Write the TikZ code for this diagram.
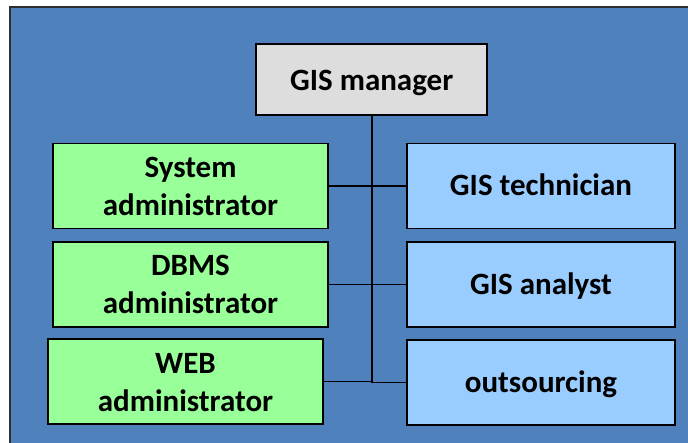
\documentclass[tikz,border=0pt]{standalone}
\usepackage{fontspec}
\setmainfont{Carlito}
\definecolor{panelblue}{HTML}{4F81BD}
\definecolor{panelrim}{HTML}{2E2E2E}
\definecolor{rolegreen}{HTML}{99FF99}
\definecolor{roleblue}{HTML}{99CCFF}
\definecolor{headgray}{HTML}{DDDDDD}
% two centred lines, baseline on the first one
\newcommand\twolines[2]{\begin{tabular}[t]{@{}c@{}}#1\\#2\end{tabular}}
\begin{document}
\begin{tikzpicture}[x=1pt,y=-1pt,
  role/.style={draw=black,line width=1.6pt,inner sep=0pt,
    font=\fontsize{31}{38}\selectfont\bfseries},
  oneline/.style={role,text height=52.5pt,text depth=32.5pt},
  twoline/.style={role,text height=34pt,text depth=51pt},
  leftrole/.style={twoline,fill=rolegreen,minimum width=275pt},
  rightrole/.style={oneline,fill=roleblue,minimum width=268pt},
  head/.style={role,fill=headgray,minimum width=231pt,
    text height=46.7pt,text depth=24.3pt},
  link/.style={draw=black,line width=1.4pt},
  trunk/.style={draw=black,line width=2.2pt}]
  \useasboundingbox (0,0) rectangle (688,442);
  \clip (0,0) rectangle (688,442);
  % backdrop panel
  \fill[white] (0,0) rectangle (688,442);
  \draw[panelrim,line width=2pt,fill=panelblue] (10,7) rectangle (700,460);

  % boxes
  \node[head] (mgr) at (371.7,79.5) {GIS manager};
  \node[leftrole] (sys) at (190.5,185.8) {\twolines{System}{administrator}};
  \node[leftrole] (dbms) at (190.5,284.2) {\twolines{DBMS}{administrator}};
  \node[leftrole] (web) at (185.5,381.5) {\twolines{WEB}{administrator}};
  \node[rightrole] (tech) at (541,185.8) {GIS technician};
  \node[rightrole] (ana) at (541,284.2) {GIS analyst};
  \node[rightrole] (out) at (541,382.5) {outsourcing};

  % connectors
  \draw[link] (sys.east) -- (tech.west);
  \draw[link] (dbms.east) -- (ana.west);
  \draw[link] (web.east) -- (web.east -| mgr.south);
  \draw[link] (out.west) -- (out.west -| mgr.south);
  \draw[trunk] (mgr.south) -- (mgr.south |- out.west);
\end{tikzpicture}
\end{document}
